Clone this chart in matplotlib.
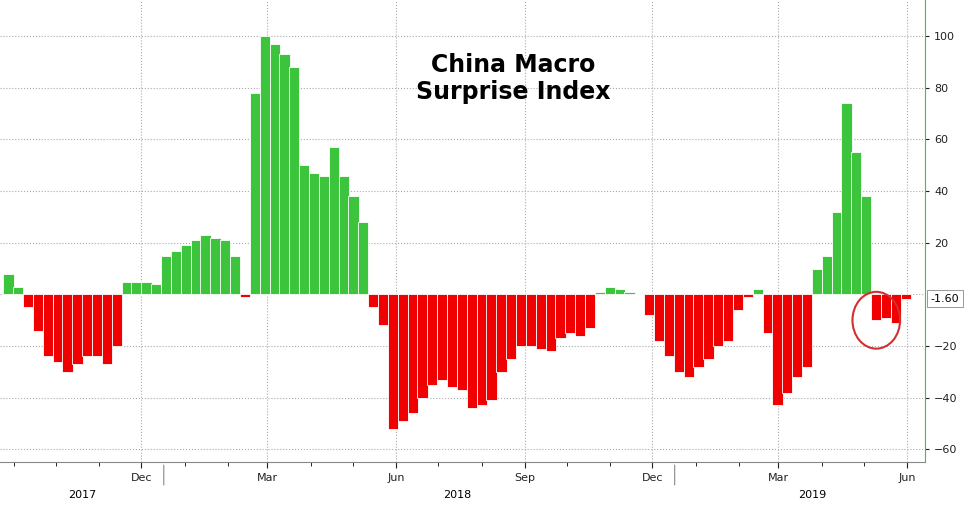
import numpy as np
import pandas as pd
import matplotlib.pyplot as plt
import matplotlib.dates as mdates
from matplotlib.patches import Ellipse

# China macro surprise index, roughly weekly readings
values = [8, 3, -5, -14, -24, -26, -30, -27, -24, -24, -27, -20,
          5, 5, 5, 4, 15, 17, 19, 21, 23, 22, 21, 15, -1,
          78, 100, 97, 93, 88, 50, 47, 46, 57, 46, 38, 28,
          -5, -12, -52, -49, -46, -40, -35, -33, -36, -37, -44, -43, -41,
          -30, -25, -20, -20, -21, -22, -17, -15, -16, -13,
          1, 3, 2, 1, 0, -8, -18, -24, -30, -32, -28, -25, -20, -18, -6, -1,
          2, -15, -43, -38, -32, -28, 10, 15, 32, 74, 55, 38,
          -10, -9, -11, -1.6]
dates = pd.date_range('2017-08-28', '2019-05-31', periods=len(values))
last_value = -1.60

green = '#3cc43c'
red = '#f00000'

fig = plt.figure(figsize=(9.76, 5.08), dpi=100)
ax = fig.add_axes([0.0, 0.09, 0.948, 0.91])

vals = np.array(values)
colors = [green if v >= 0 else red for v in vals]
ax.bar(dates, vals, width=7.3, color=colors, edgecolor='white', linewidth=0.6)

ax.set_xlim(pd.Timestamp('2017-08-22'), pd.Timestamp('2019-06-14'))
ax.set_ylim(-65, 114)

ax.yaxis.tick_right()
ax.set_yticks([-60, -40, -20, 20, 40, 60, 80, 100])
ax.tick_params(axis='y', colors='#222222', labelsize=8, length=3)
for t in ax.get_yticklines():
    t.set_color(green)
for s in ['top', 'left']:
    ax.spines[s].set_visible(False)
ax.spines['right'].set_color(green)
ax.spines['bottom'].set_color('#888888')
ax.axhline(0, color='#aaaaaa', linestyle=':', linewidth=0.8, zorder=0)

month_ticks = pd.to_datetime(['2017-12-01', '2018-03-01', '2018-06-01', '2018-09-01',
                              '2018-12-01', '2019-03-01', '2019-06-01'])
ax.set_xticks(month_ticks)
ax.xaxis.set_major_formatter(mdates.DateFormatter('%b'))
ax.xaxis.set_minor_locator(mdates.MonthLocator())
ax.tick_params(axis='x', labelsize=8, colors='#222222', length=4)
ax.tick_params(axis='x', which='minor', length=3)

ax.grid(True, axis='both', which='major', linestyle=':', color='#aaaaaa', linewidth=0.8)
ax.set_axisbelow(True)

# year labels under months
years = {'2017': '2017-10-20', '2018': '2018-07-15', '2019': '2019-03-25'}
for label, d in years.items():
    ax.annotate(label, xy=(mdates.date2num(pd.Timestamp(d)), 0), xycoords=('data', 'axes fraction'),
                xytext=(0, -26), textcoords='offset points', ha='center', fontsize=8)
for d in ['2017-12-17', '2018-12-17']:
    x = mdates.date2num(pd.Timestamp(d))
    ax.annotate('', xy=(x, 0), xycoords=('data', 'axes fraction'),
                xytext=(x, -0.055), textcoords=('data', 'axes fraction'),
                arrowprops=dict(arrowstyle='-', color='#888888', lw=0.8))

# last value box
ax.annotate(f'{last_value:.2f}', xy=(1, last_value), xycoords=('axes fraction', 'data'),
            xytext=(4, 0), textcoords='offset points', va='center', fontsize=8,
            bbox=dict(boxstyle='square,pad=0.3', fc='white', ec='#888888', lw=0.6))

# red circle around latest bars
ax.add_patch(Ellipse((mdates.date2num(pd.Timestamp('2019-05-10')), -10), width=34, height=22,
                     fill=False, edgecolor='#d03030', lw=1.5))

ax.text(0.555, 0.83, 'China Macro\nSurprise Index', transform=ax.transAxes,
        ha='center', va='center', fontsize=17, fontweight='bold', linespacing=1.2)

fig.savefig('out.png', dpi=100)
